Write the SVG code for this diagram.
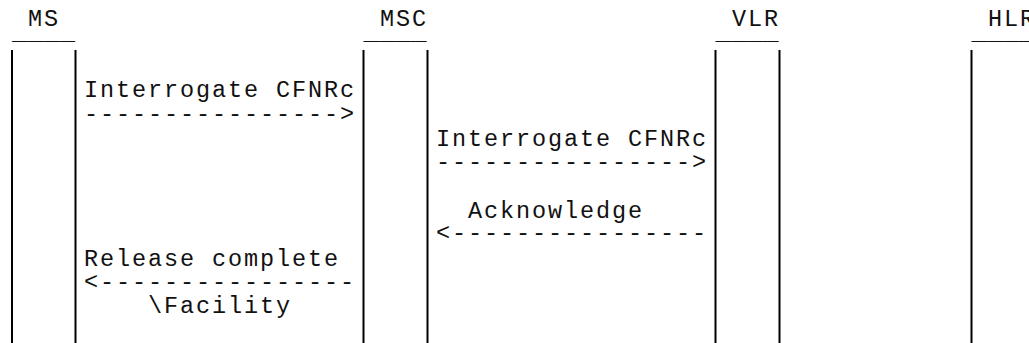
<svg xmlns="http://www.w3.org/2000/svg" width="1029" height="343" viewBox="0 0 1029 343">
<style>
.t{font-family:"Liberation Mono","Courier New",monospace;font-size:23.5px;letter-spacing:1.9px;fill:#111}
.u{font-family:"Liberation Mono","Courier New",monospace;font-size:22px;fill:#111}
.v{stroke:#000;stroke-width:2;fill:none}
</style>
<rect width="1029" height="343" fill="#fff"/>
<g id="node-ms">
<text class="t" x="28" y="26">MS</text>
<text class="u" x="12" y="40" textLength="63" lengthAdjust="spacingAndGlyphs">____</text>
<line class="v" x1="12" y1="50" x2="12" y2="343"/>
<line class="v" x1="75.5" y1="50" x2="75.5" y2="343"/>
</g>
<g id="node-msc">
<text class="t" x="380" y="26">MSC</text>
<text class="u" x="363.5" y="40" textLength="63" lengthAdjust="spacingAndGlyphs">____</text>
<line class="v" x1="363.5" y1="50" x2="363.5" y2="343"/>
<line class="v" x1="427.5" y1="50" x2="427.5" y2="343"/>
</g>
<g id="node-vlr">
<text class="t" x="732" y="26">VLR</text>
<text class="u" x="715.5" y="40" textLength="63" lengthAdjust="spacingAndGlyphs">____</text>
<line class="v" x1="715.5" y1="50" x2="715.5" y2="343"/>
<line class="v" x1="779.5" y1="50" x2="779.5" y2="343"/>
</g>
<g id="node-hlr">
<text class="t" x="988" y="26">HLR</text>
<text class="u" x="971.5" y="40" textLength="63" lengthAdjust="spacingAndGlyphs">____</text>
<line class="v" x1="971.5" y1="50" x2="971.5" y2="343"/>
</g>
<g id="connectors">
<text class="t" x="84" y="97">Interrogate CFNRc</text>
<text class="t" x="84" y="121">----------------&gt;</text>
<text class="t" x="436" y="146">Interrogate CFNRc</text>
<text class="t" x="436" y="168.5">----------------&gt;</text>
<text class="t" x="468" y="218">Acknowledge</text>
<text class="t" x="436" y="240">&lt;----------------</text>
<text class="t" x="84" y="266">Release complete</text>
<text class="t" x="84" y="288.5">&lt;----------------</text>
<text class="t" x="148" y="313">\Facility</text>
</g>
</svg>
